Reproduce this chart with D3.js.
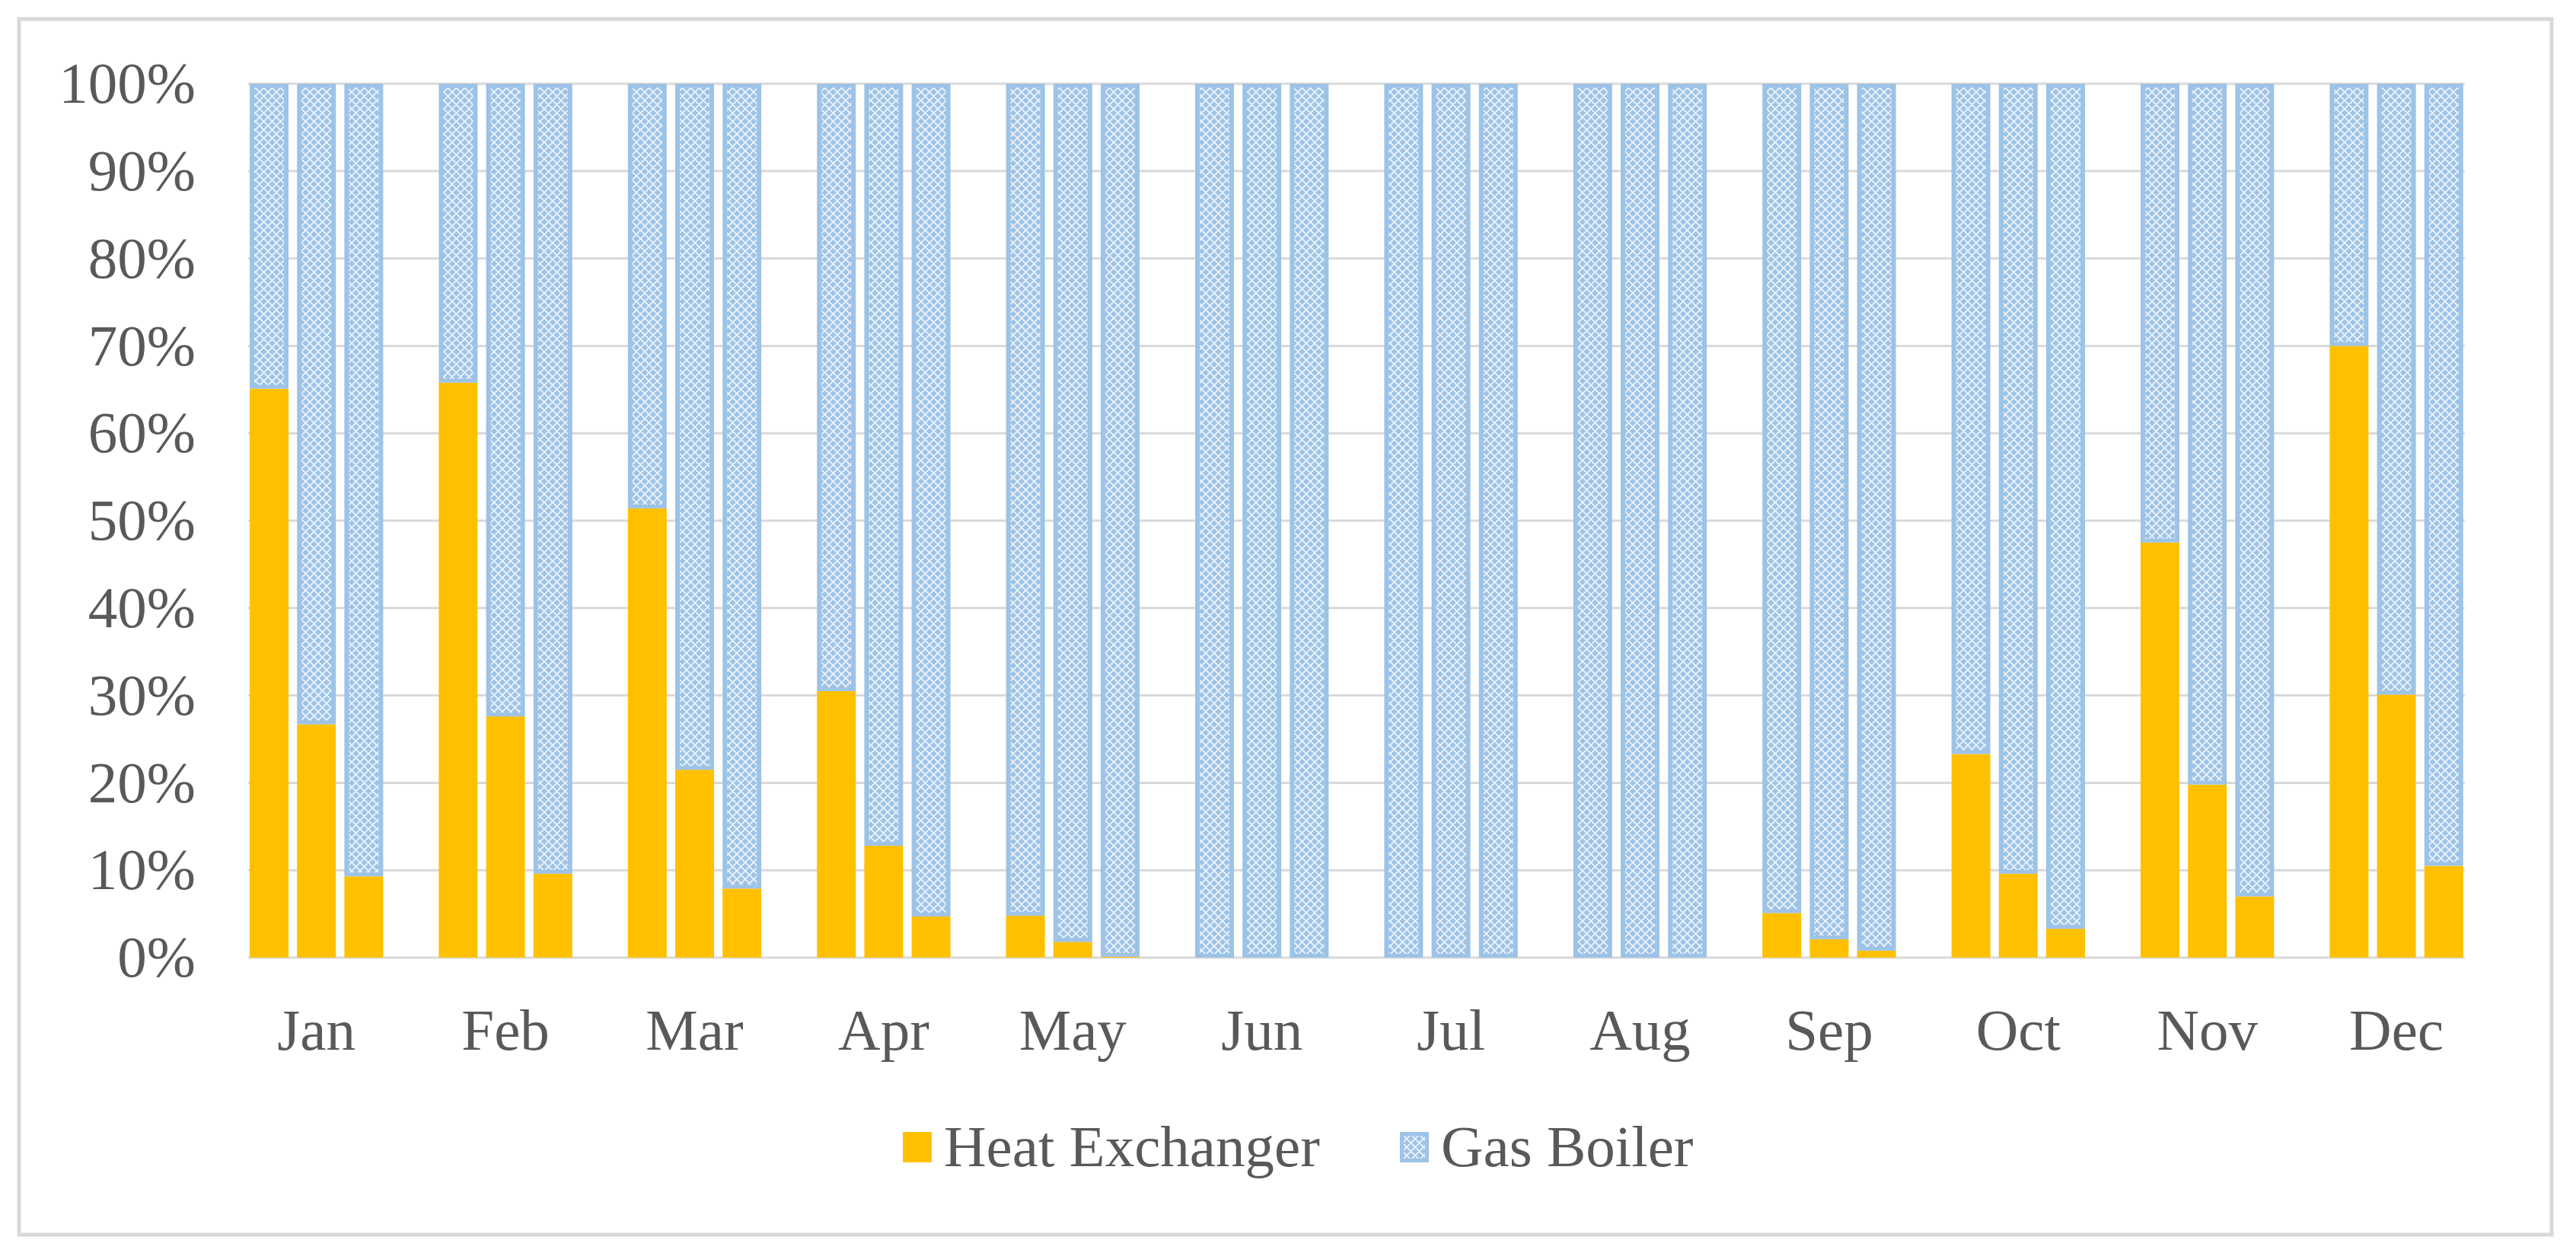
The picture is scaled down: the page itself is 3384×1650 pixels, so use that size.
<!DOCTYPE html>
<html>
<head>
<meta charset="utf-8">
<script src="https://cdn.jsdelivr.net/npm/d3@7"></script>
<style>
  html, body { margin: 0; padding: 0; background: #ffffff; }
  svg { display: block; }
</style>
</head>
<body>
<svg id="chart" width="3384" height="1650"></svg>
<script>
// ---- data (percent) ----
const months = ["Jan","Feb","Mar","Apr","May","Jun","Jul","Aug","Sep","Oct","Nov","Dec"];
const yTicks = [0, 10, 20, 30, 40, 50, 60, 70, 80, 90, 100];
const seriesNames = ["Heat Exchanger", "Gas Boiler"];
// three stacked columns per month (case 1, case 2, case 3)
const heatExchanger1 = [65.1, 65.8, 51.4, 30.5, 4.8, 0, 0, 0, 5.1, 23.3, 47.5, 70.0];
const heatExchanger2 = [26.7, 27.6, 21.5, 12.8, 1.8, 0, 0, 0, 2.1, 9.6, 19.8, 30.1];
const heatExchanger3 = [9.3, 9.6, 7.9, 4.7, 0.1, 0, 0, 0, 0.8, 3.3, 7.0, 10.5];
const gasBoiler1 = [34.9, 34.2, 48.6, 69.5, 95.2, 100, 100, 100, 94.9, 76.7, 52.5, 30.0];
const gasBoiler2 = [73.3, 72.4, 78.5, 87.2, 98.2, 100, 100, 100, 97.9, 90.4, 80.2, 69.9];
const gasBoiler3 = [90.7, 90.4, 92.1, 95.3, 99.9, 100, 100, 100, 99.2, 96.7, 93.0, 89.5];

const heatCases = [heatExchanger1, heatExchanger2, heatExchanger3];
const gasCases = [gasBoiler1, gasBoiler2, gasBoiler3];

// ---- style ----
const YELLOW = "#FFC000";
const BLUE = "#9DC3E6";
const GRID = "#D9D9D9";
const TEXT = "#595959";
const FONT = "'Liberation Serif', 'Times New Roman', serif";
const FS = 77;

const svg = d3.select("#chart");

// pattern for Gas Boiler
const defs = svg.append("defs");
const P = 11;
const pat = defs.append("pattern")
  .attr("id", "lattice")
  .attr("patternUnits", "userSpaceOnUse")
  .attr("width", P).attr("height", P);
pat.append("rect").attr("width", P).attr("height", P).attr("fill", BLUE);
pat.append("path")
  .attr("d", `M0,0L${P},${P}M${P},0L0,${P}M-1,${P-1}L1,${P+1}M${P-1},-1L${P+1},1M${P-1},${P+1}L${P+1},${P-1}M-1,1L1,-1`)
  .attr("stroke", "#EEF4FB").attr("stroke-width", 1.7).attr("fill", "none");

// frame
svg.append("rect")
  .attr("x", 25).attr("y", 25).attr("width", 3327).attr("height", 1597)
  .attr("fill", "#ffffff").attr("stroke", GRID).attr("stroke-width", 5);

// ---- scales ----
const y = d3.scaleLinear().domain([0, 100]).range([1258, 110]);
const xMonth = d3.scaleBand().domain(months).range([291.5, 3272.3])
  .paddingInner(0.294).paddingOuter(0.147);
const xCase = d3.scaleBand().domain([0, 1, 2]).range([0, xMonth.bandwidth()])
  .paddingInner(0.18);

const gx0 = xMonth(months[0]) - 2;
const gx1 = xMonth(months[months.length - 1]) + xMonth.bandwidth() + 2;

// gridlines
svg.append("g").selectAll("line").data(yTicks).join("line")
  .attr("x1", gx0).attr("x2", gx1)
  .attr("y1", d => y(d)).attr("y2", d => y(d))
  .attr("stroke", GRID).attr("stroke-width", 3);

// bars
const barData = [];
months.forEach((m, i) => {
  [0, 1, 2].forEach(c => {
    barData.push({ month: m, c, heat: heatCases[c][i], gas: gasCases[c][i] });
  });
});

const bars = svg.append("g");
const bx = d => xMonth(d.month) + xCase(d.c);
const bw = xCase.bandwidth();

// heat exchanger (bottom)
bars.selectAll("rect.heat").data(barData.filter(d => d.heat > 0)).join("rect")
  .attr("class", "heat")
  .attr("x", bx).attr("width", bw)
  .attr("y", d => y(d.heat)).attr("height", d => y(0) - y(d.heat))
  .attr("fill", YELLOW);

// gas boiler (top) solid border + pattern
bars.selectAll("rect.gasbg").data(barData).join("rect")
  .attr("class", "gasbg")
  .attr("x", bx).attr("width", bw)
  .attr("y", d => y(d.heat + d.gas)).attr("height", d => y(d.heat) - y(d.heat + d.gas))
  .attr("fill", BLUE);
const inset = 6;
bars.selectAll("rect.gas").data(barData).join("rect")
  .attr("class", "gas")
  .attr("x", d => bx(d) + inset).attr("width", bw - 2 * inset)
  .attr("y", d => y(d.heat + d.gas) + 5)
  .attr("height", d => Math.max(0, y(d.heat) - y(d.heat + d.gas) - 10))
  .attr("fill", "url(#lattice)");

// y axis
const yAxis = svg.append("g")
  .attr("transform", `translate(${gx0},0)`)
  .call(d3.axisLeft(y).tickValues(yTicks).tickSize(0).tickPadding(69).tickFormat(d => d + "%"));
yAxis.select(".domain").remove();
yAxis.selectAll("text").attr("font-family", FONT).attr("font-size", FS).attr("fill", TEXT);

// x axis
const xAxis = svg.append("g")
  .attr("transform", `translate(0,${y(0)})`)
  .call(d3.axisBottom(xMonth).tickSize(0).tickPadding(66));
xAxis.select(".domain").remove();
xAxis.selectAll("text").attr("font-family", FONT).attr("font-size", FS).attr("fill", TEXT);

// legend
const legendItems = [
  { name: seriesNames[0], fill: YELLOW, x: 1186 },
  { name: seriesNames[1], fill: "url(#lattice)", x: 1839 }
];
const lg = svg.append("g");
legendItems.forEach(it => {
  if (it.fill.startsWith("url")) {
    lg.append("rect").attr("x", it.x).attr("y", 1487).attr("width", 38).attr("height", 40).attr("fill", BLUE);
    lg.append("rect").attr("x", it.x + 5).attr("y", 1492).attr("width", 28).attr("height", 30).attr("fill", it.fill);
  } else {
    lg.append("rect").attr("x", it.x).attr("y", 1487).attr("width", 38).attr("height", 40).attr("fill", it.fill);
  }
  lg.append("text").attr("x", it.x + 54).attr("y", 1532)
    .attr("font-family", FONT).attr("font-size", FS).attr("fill", TEXT)
    .text(it.name);
});
</script>
</body>
</html>
